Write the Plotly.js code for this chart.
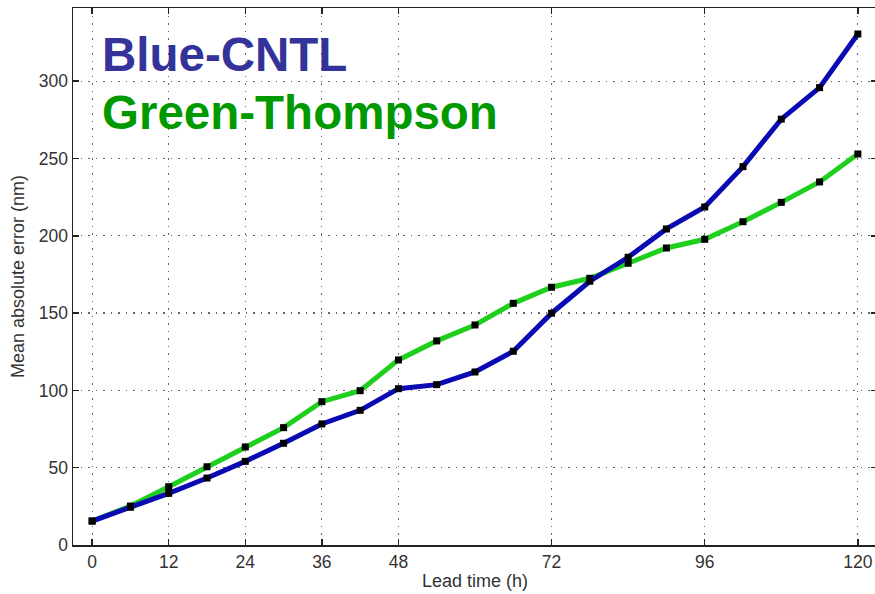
<!DOCTYPE html>
<html><head><meta charset="utf-8">
<script src="https://cdn.plot.ly/plotly-3.0.1.min.js"></script>
<style>html,body{margin:0;padding:0;overflow:hidden;background:#fff}</style>
</head><body><div id="chart"></div>
<script>
const leadTime = [0,6,12,18,24,30,36,42,48,54,60,66,72,78,84,90,96,102,108,114,120];
const cntl = [15.5,24.4,33.4,43.3,54.1,65.8,78.3,87.1,101.1,103.7,111.9,125.3,149.9,170.6,186.1,204.4,218.6,244.7,275.4,295.8,330.5];
const thompson = [15.5,25.2,37.7,50.6,63.4,75.9,92.7,99.8,119.7,132.0,142.3,156.3,166.7,172.5,182.2,192.1,197.7,209.1,221.6,234.8,252.9];
const xTicks = [0,12,24,36,48,72,96,120];
const yTicks = [0,50,100,150,200,250,300];
const labels = ["Blue-CNTL","Green-Thompson"];

const font = "Liberation Sans, Arial, sans-serif";
const traces = [
  {x: leadTime, y: thompson, mode: 'lines+markers', line:{color:'#1ecf1e', width:5},
   marker:{symbol:'square', size:7, color:'#000'}, showlegend:false},
  {x: leadTime, y: cntl, mode: 'lines+markers', line:{color:'#0a0ab4', width:5},
   marker:{symbol:'square', size:7, color:'#000'}, showlegend:false}
];
const axisCommon = {
  showline:true, linecolor:'#222', linewidth:1.5, mirror:'ticks',
  ticks:'inside', ticklen:6, tickwidth:1.5, tickcolor:'#222',
  showgrid:true, gridcolor:'#666', griddash:'1.5px,6px', gridwidth:1.2,
  zeroline:false, tickfont:{family:font, size:17.5, color:'#333'}
};
const layout = {
  width: 880, height: 594,
  margin:{l:73, r:3, t:8, b:49},
  paper_bgcolor:'#fff', plot_bgcolor:'#fff',
  xaxis: Object.assign({}, axisCommon, {range:[-3,123], tickmode:'array', tickvals:xTicks,
    ticktext:xTicks.map(String),
    title:{text:'Lead time (h)', font:{family:font, size:18, color:'#333'}, standoff:4}}),
  yaxis: Object.assign({}, axisCommon, {range:[0,347.3], tickmode:'array', tickvals:yTicks,
    ticktext:yTicks.map(String),
    title:{text:'Mean absolute error (nm)', font:{family:font, size:18, color:'#333'}, standoff:9}}),
  annotations:[
    {xref:'paper', yref:'paper', x:0.034, y:0.913, xanchor:'left', yanchor:'middle', showarrow:false,
     text:'<b>'+labels[0]+'</b>', font:{family:font, size:47.5, color:'#333399'}},
    {xref:'paper', yref:'paper', x:0.034, y:0.806, xanchor:'left', yanchor:'middle', showarrow:false,
     text:'<b>'+labels[1]+'</b>', font:{family:font, size:47.5, color:'#009900'}}
  ]
};
Plotly.newPlot('chart', traces, layout, {displayModeBar:false, staticPlot:true});
</script></body></html>
